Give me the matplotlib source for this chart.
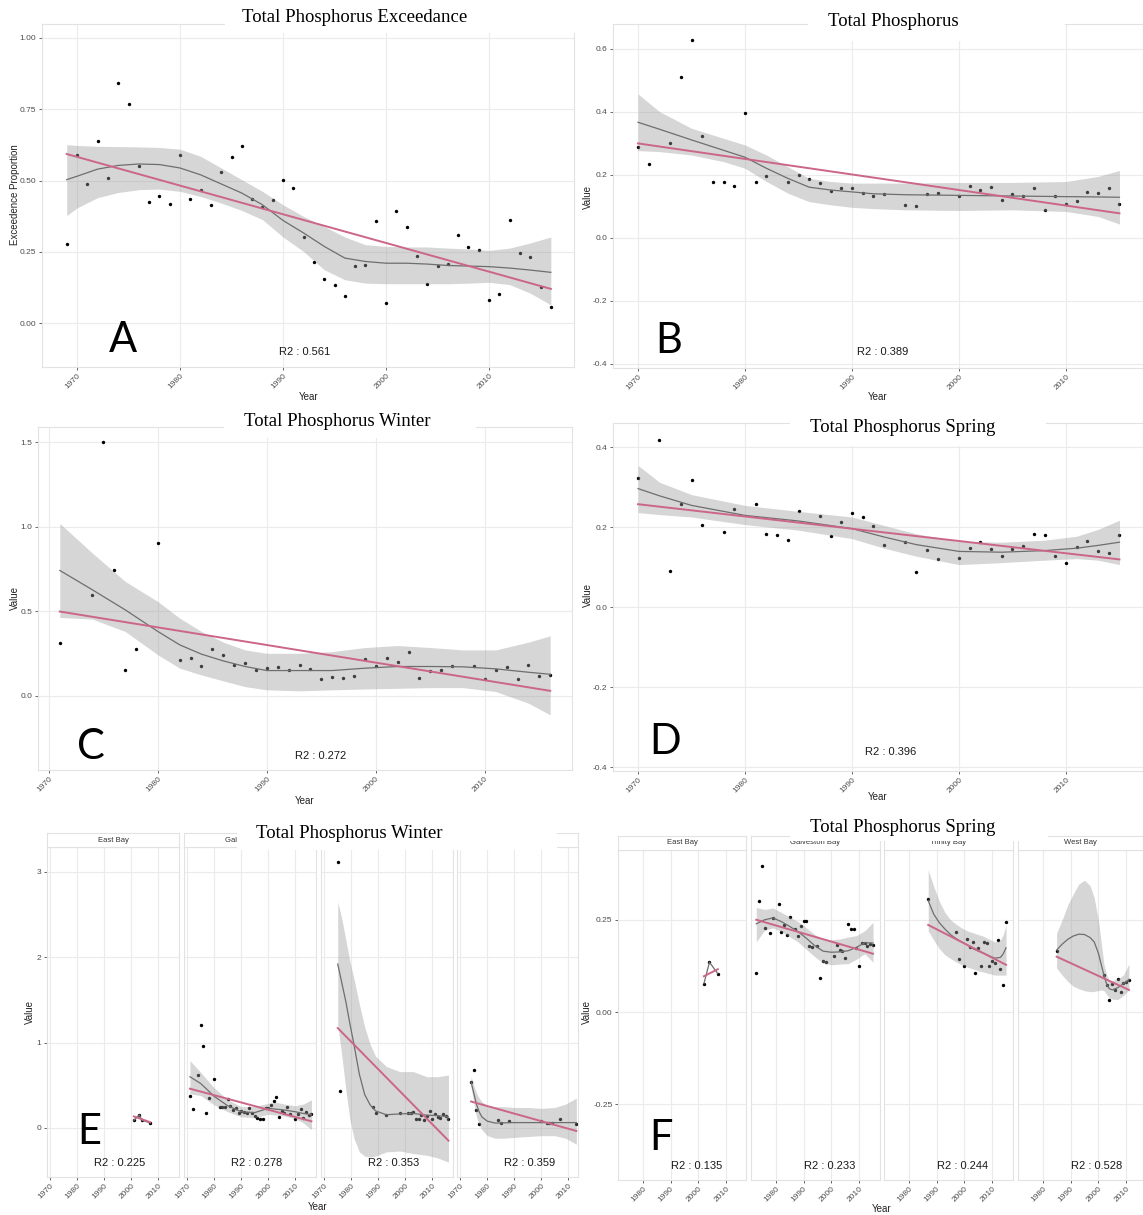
import matplotlib.pyplot as plt
from matplotlib.patches import Rectangle

W, H = 1143, 1215

# ── A: Total Phosphorus Exceedance ───────────────────────────────────────────
a_years = list(range(1969, 2017))
a_vals = [0.278, 0.588, 0.489, 0.640, 0.509, 0.842, 0.770, 0.550, 0.425, 0.447,
          0.419, 0.589, 0.435, 0.466, 0.414, 0.530, 0.582, 0.621, 0.435, 0.407,
          0.433, 0.501, 0.475, 0.301, 0.216, 0.154, 0.132, 0.094, 0.200, 0.202,
          0.357, 0.071, 0.393, 0.338, 0.235, 0.137, 0.201, 0.207, 0.308, 0.267,
          0.257, 0.081, 0.102, 0.360, 0.247, 0.232, 0.125, 0.056]
a_fit_x = [1969, 1970, 1972, 1974, 1976, 1978, 1980, 1982, 1984, 1986, 1988, 1990, 1992,
           1994, 1996, 1998, 2000, 2002, 2004, 2006, 2008, 2010, 2012, 2014, 2016]
a_fit = [0.503, 0.515, 0.540, 0.553, 0.558, 0.556, 0.544, 0.520, 0.488, 0.456, 0.415, 0.360, 0.316,
         0.269, 0.228, 0.216, 0.210, 0.210, 0.207, 0.202, 0.200, 0.198, 0.193, 0.186, 0.178]
a_hi = [0.626, 0.623, 0.620, 0.619, 0.618, 0.616, 0.610, 0.585, 0.544, 0.503, 0.462, 0.415, 0.374,
        0.339, 0.302, 0.275, 0.269, 0.267, 0.267, 0.263, 0.260, 0.255, 0.263, 0.281, 0.302]
a_lo = [0.377, 0.404, 0.440, 0.458, 0.468, 0.470, 0.462, 0.444, 0.421, 0.395, 0.363, 0.302, 0.251,
        0.187, 0.152, 0.140, 0.138, 0.138, 0.138, 0.138, 0.140, 0.143, 0.135, 0.105, 0.064]
a_lm_x = [1969, 2016]
a_lm = [0.593, 0.120]

# ── B: Total Phosphorus ──────────────────────────────────────────────────────
b_years = [1970, 1971, 1973, 1974, 1975, 1976, 1977, 1978, 1979, 1980, 1981, 1982, 1984, 1985,
           1986, 1987, 1988, 1989, 1990, 1991, 1992, 1993, 1995, 1996, 1997, 1998, 2000, 2001,
           2002, 2003, 2004, 2005, 2006, 2007, 2008, 2009, 2010, 2011, 2012, 2013, 2014, 2015]
b_vals = [0.290, 0.235, 0.302, 0.511, 0.628, 0.324, 0.177, 0.179, 0.166, 0.398, 0.178, 0.197,
          0.176, 0.201, 0.188, 0.174, 0.150, 0.158, 0.159, 0.143, 0.134, 0.140, 0.104, 0.100,
          0.140, 0.144, 0.133, 0.165, 0.151, 0.162, 0.121, 0.138, 0.134, 0.158, 0.087, 0.132,
          0.109, 0.117, 0.147, 0.141, 0.158, 0.108]
b_fit_x = [1970, 1972, 1975, 1978, 1980, 1982, 1984, 1986, 1988, 1990, 1992, 1995, 2000, 2005,
           2010, 2013, 2015]
b_fit = [0.367, 0.345, 0.311, 0.278, 0.256, 0.221, 0.189, 0.161, 0.152, 0.146, 0.140, 0.137,
         0.135, 0.133, 0.131, 0.130, 0.129]
b_hi = [0.457, 0.401, 0.348, 0.316, 0.295, 0.263, 0.226, 0.189, 0.179, 0.174, 0.174, 0.174,
        0.176, 0.176, 0.179, 0.195, 0.214]
b_lo = [0.277, 0.274, 0.263, 0.242, 0.221, 0.179, 0.142, 0.115, 0.105, 0.097, 0.093, 0.089,
        0.087, 0.089, 0.084, 0.068, 0.044]
b_lm_x = [1970, 2015]
b_lm = [0.300, 0.078]

# ── C: Total Phosphorus Winter ───────────────────────────────────────────────
c_years = [1971, 1974, 1975, 1976, 1977, 1978, 1980, 1982, 1983, 1984, 1985, 1986, 1987, 1988,
           1989, 1990, 1991, 1992, 1993, 1994, 1995, 1996, 1997, 1998, 1999, 2000, 2001, 2002,
           2003, 2004, 2005, 2006, 2007, 2009, 2010, 2011, 2012, 2013, 2014, 2015, 2016]
c_vals = [0.312, 0.598, 1.500, 0.744, 0.156, 0.278, 0.905, 0.215, 0.227, 0.179, 0.278, 0.241,
          0.181, 0.195, 0.154, 0.166, 0.170, 0.154, 0.181, 0.158, 0.099, 0.112, 0.103, 0.118,
          0.219, 0.178, 0.223, 0.203, 0.260, 0.105, 0.150, 0.152, 0.179, 0.178, 0.099, 0.154,
          0.170, 0.099, 0.185, 0.118, 0.122]
c_fit_x = [1971, 1974, 1977, 1980, 1982, 1984, 1986, 1988, 1990, 1993, 1996, 1999, 2002, 2005,
           2008, 2011, 2014, 2016]
c_fit = [0.742, 0.627, 0.509, 0.381, 0.302, 0.247, 0.207, 0.174, 0.150, 0.150, 0.150, 0.164,
         0.174, 0.174, 0.172, 0.160, 0.140, 0.128]
c_hi = [1.020, 0.844, 0.677, 0.558, 0.460, 0.381, 0.318, 0.272, 0.252, 0.252, 0.262, 0.286,
        0.298, 0.286, 0.272, 0.272, 0.318, 0.355]
c_lo = [0.464, 0.454, 0.381, 0.243, 0.164, 0.124, 0.089, 0.055, 0.036, 0.030, 0.036, 0.041,
        0.045, 0.049, 0.049, 0.026, -0.043, -0.112]
c_lm_x = [1971, 2016]
c_lm = [0.499, 0.030]

# ── D: Total Phosphorus Spring ───────────────────────────────────────────────
d_years = [1970, 1972, 1973, 1974, 1975, 1976, 1978, 1979, 1981, 1982, 1983, 1984, 1985, 1987,
           1988, 1989, 1990, 1991, 1992, 1993, 1995, 1996, 1997, 1998, 2000, 2001, 2002, 2003,
           2004, 2005, 2006, 2007, 2008, 2009, 2010, 2011, 2012, 2013, 2014, 2015]
d_vals = [0.322, 0.418, 0.090, 0.258, 0.318, 0.205, 0.187, 0.245, 0.257, 0.182, 0.181, 0.167,
          0.240, 0.228, 0.178, 0.212, 0.234, 0.224, 0.202, 0.156, 0.162, 0.088, 0.142, 0.121,
          0.123, 0.147, 0.162, 0.144, 0.128, 0.145, 0.152, 0.182, 0.179, 0.128, 0.109, 0.150,
          0.165, 0.139, 0.134, 0.179]
d_fit_x = [1970, 1972, 1975, 1980, 1985, 1990, 1993, 1996, 2000, 2004, 2008, 2011, 2013, 2015]
d_fit = [0.296, 0.278, 0.254, 0.229, 0.215, 0.196, 0.175, 0.156, 0.139, 0.137, 0.141, 0.147,
         0.154, 0.162]
d_hi = [0.354, 0.312, 0.281, 0.254, 0.239, 0.225, 0.204, 0.183, 0.164, 0.162, 0.167, 0.177,
        0.194, 0.217]
d_lo = [0.236, 0.231, 0.225, 0.206, 0.192, 0.171, 0.147, 0.127, 0.106, 0.111, 0.117, 0.121,
        0.117, 0.106]
d_lm_x = [1970, 2015]
d_lm = [0.257, 0.119]

# ── E: Total Phosphorus Winter by bay ────────────────────────────────────────
# strip labels of the two right facets are hidden under the pasted title in the original
e_strips = ['East Bay', 'Galveston Bay', '', '']
f_strips = ['East Bay', 'Galveston Bay', 'Trinity Bay', 'West Bay']

e1_years = [2001, 2003, 2004, 2007]
e1_vals = [0.09, 0.152, 0.09, 0.06]
e1_lm_x = [2001, 2007]
e1_lm = [0.135, 0.068]

e2_years = [1971, 1972, 1974, 1975, 1976, 1977, 1978, 1980, 1982, 1983, 1984, 1985, 1986, 1987,
            1988, 1989, 1990, 1991, 1992, 1993, 1994, 1995, 1996, 1997, 1998, 1999, 2000, 2001,
            2002, 2003, 2004, 2005, 2006, 2007, 2008, 2010, 2011, 2012, 2013, 2014, 2015, 2016]
e2_vals = [0.37, 0.22, 0.62, 1.21, 0.96, 0.18, 0.35, 0.57, 0.24, 0.25, 0.25, 0.34, 0.26, 0.21,
           0.23, 0.18, 0.20, 0.19, 0.17, 0.23, 0.17, 0.14, 0.12, 0.11, 0.10, 0.23, 0.23, 0.27,
           0.32, 0.36, 0.13, 0.20, 0.18, 0.25, 0.16, 0.10, 0.16, 0.22, 0.12, 0.19, 0.15, 0.16]
e2_fit_x = [1971, 1975, 1980, 1985, 1990, 1995, 2000, 2003, 2006, 2010, 2013, 2016]
e2_fit = [0.60, 0.52, 0.37, 0.26, 0.19, 0.18, 0.23, 0.22, 0.21, 0.19, 0.17, 0.155]
e2_hi = [0.79, 0.65, 0.47, 0.33, 0.25, 0.25, 0.29, 0.30, 0.28, 0.26, 0.28, 0.33]
e2_lo = [0.40, 0.38, 0.27, 0.19, 0.13, 0.12, 0.16, 0.15, 0.14, 0.11, 0.06, -0.02]
e2_lm_x = [1971, 2016]
e2_lm = [0.46, 0.078]

e3_years = [1975, 1976, 1988, 1989, 1993, 1998, 2001, 2002, 2003, 2004, 2005, 2006, 2007, 2008,
            2009, 2010, 2011, 2012, 2013, 2014, 2015, 2016]
e3_vals = [3.12, 0.43, 0.25, 0.18, 0.15, 0.17, 0.17, 0.17, 0.19, 0.10, 0.11, 0.15, 0.09, 0.14,
           0.20, 0.11, 0.16, 0.13, 0.12, 0.16, 0.14, 0.10]
e3_fit_x = [1975, 1976.5, 1978, 1979.5, 1981, 1983, 1985, 1987, 1989, 1993, 1998, 2003, 2008,
            2012, 2016]
e3_fit = [1.92, 1.70, 1.48, 1.22, 0.98, 0.63, 0.39, 0.27, 0.20, 0.155, 0.165, 0.17, 0.15,
          0.145, 0.13]
e3_hi = [2.65, 2.45, 2.20, 1.95, 1.75, 1.45, 1.18, 0.98, 0.84, 0.72, 0.66, 0.66, 0.60, 0.60, 0.62]
e3_lo = [1.21, 0.85, 0.45, 0.10, -0.12, -0.28, -0.33, -0.34, -0.33, -0.28, -0.27, -0.30, -0.32,
         -0.35, -0.40]
e3_lm_x = [1975, 2016]
e3_lm = [1.17, -0.148]

e4_years = [1974, 1975, 1976, 1977, 1984, 1985, 1988, 2000, 2002, 2003, 2004, 2007, 2013]
e4_vals = [0.54, 0.68, 0.21, 0.05, 0.09, 0.06, 0.08, 0.08, 0.06, 0.06, 0.06, 0.10, 0.05]
e4_fit_x = [1974, 1975, 1976, 1977, 1978, 1980, 1983, 1986, 1990, 1995, 2000, 2005, 2009, 2013]
e4_fit = [0.54, 0.41, 0.28, 0.19, 0.13, 0.08, 0.057, 0.06, 0.063, 0.063, 0.063, 0.063, 0.063,
          0.063]
e4_hi = [0.60, 0.50, 0.41, 0.35, 0.31, 0.26, 0.25, 0.25, 0.24, 0.24, 0.23, 0.24, 0.28, 0.35]
e4_lo = [0.48, 0.30, 0.13, 0.04, -0.02, -0.09, -0.12, -0.12, -0.11, -0.10, -0.09, -0.09, -0.12,
         -0.19]
e4_lm_x = [1974, 2013]
e4_lm = [0.31, -0.035]
e_r2 = ['0.225', '0.278', '0.353', '0.359']

# ── F: Total Phosphorus Spring by bay ────────────────────────────────────────
f1_years = [2002, 2004, 2007]
f1_vals = [0.077, 0.135, 0.104]
f1_lm_x = [2002, 2007]
f1_lm = [0.097, 0.116]

f2_years = [1973, 1974, 1975, 1976, 1978, 1979, 1981, 1982, 1983, 1984, 1985, 1987, 1988, 1989,
            1990, 1991, 1992, 1993, 1995, 1996, 1997, 1998, 2001, 2002, 2003, 2004, 2005, 2006,
            2007, 2008, 2009, 2010, 2011, 2012, 2013, 2014, 2015]
f2_vals = [0.106, 0.300, 0.397, 0.228, 0.215, 0.255, 0.293, 0.218, 0.237, 0.210, 0.257, 0.225,
           0.205, 0.232, 0.248, 0.246, 0.180, 0.176, 0.178, 0.093, 0.138, 0.135, 0.152, 0.182,
           0.169, 0.165, 0.147, 0.238, 0.224, 0.224, 0.174, 0.126, 0.187, 0.187, 0.178, 0.184,
           0.182]
f2_fit_x = [1973, 1976, 1979, 1982, 1985, 1988, 1991, 1994, 1997, 2000, 2003, 2006, 2009, 2012,
            2015]
f2_fit = [0.239, 0.250, 0.255, 0.245, 0.232, 0.218, 0.200, 0.180, 0.165, 0.162, 0.163, 0.166,
          0.175, 0.188, 0.187]
f2_hi = [0.283, 0.278, 0.282, 0.270, 0.258, 0.245, 0.228, 0.210, 0.198, 0.196, 0.198, 0.203,
         0.207, 0.220, 0.243]
f2_lo = [0.190, 0.222, 0.228, 0.218, 0.204, 0.190, 0.170, 0.150, 0.133, 0.128, 0.130, 0.131,
         0.143, 0.158, 0.135]
f2_lm_x = [1973, 2015]
f2_lm = [0.250, 0.158]

f3_years = [1987, 1997, 1998, 2000, 2001, 2002, 2003, 2004, 2005, 2006, 2007, 2008, 2009, 2010,
            2011, 2012, 2013, 2014, 2015]
f3_vals = [0.307, 0.217, 0.143, 0.124, 0.197, 0.176, 0.191, 0.106, 0.174, 0.126, 0.190, 0.186,
           0.125, 0.138, 0.133, 0.196, 0.116, 0.074, 0.244]
f3_fit_x = [1987, 1989, 1991, 1993, 1995, 1997, 1999, 2001, 2003, 2005, 2007, 2009, 2011, 2013,
            2014, 2015]
f3_fit = [0.302, 0.265, 0.242, 0.225, 0.210, 0.199, 0.190, 0.182, 0.172, 0.165, 0.159, 0.152,
          0.146, 0.148, 0.158, 0.174]
f3_hi = [0.385, 0.340, 0.300, 0.270, 0.250, 0.238, 0.228, 0.220, 0.215, 0.210, 0.205, 0.197,
         0.190, 0.195, 0.210, 0.235]
f3_lo = [0.220, 0.195, 0.172, 0.155, 0.145, 0.136, 0.128, 0.122, 0.117, 0.112, 0.108, 0.104,
         0.100, 0.100, 0.100, 0.100]
f3_lm_x = [1987, 2015]
f3_lm = [0.236, 0.128]

f4_years = [1985, 2002, 2003, 2004, 2005, 2006, 2007, 2008, 2009, 2010, 2011]
f4_vals = [0.165, 0.101, 0.074, 0.033, 0.077, 0.061, 0.089, 0.054, 0.079, 0.081, 0.088]
f4_fit_x = [1985, 1987, 1989, 1991, 1993, 1995, 1997, 1998.5, 2000, 2001, 2002, 2003, 2004,
            2005, 2007, 2009, 2011]
f4_fit = [0.168, 0.184, 0.197, 0.206, 0.211, 0.210, 0.202, 0.190, 0.160, 0.130, 0.100, 0.075,
          0.063, 0.060, 0.066, 0.077, 0.088]
f4_hi = [0.214, 0.250, 0.290, 0.320, 0.347, 0.357, 0.343, 0.310, 0.250, 0.190, 0.130, 0.100,
         0.085, 0.085, 0.090, 0.100, 0.130]
f4_lo = [0.119, 0.100, 0.083, 0.070, 0.063, 0.058, 0.055, 0.056, 0.058, 0.060, 0.058, 0.048,
         0.038, 0.035, 0.034, 0.045, 0.060]
f4_lm_x = [1985, 2011]
f4_lm = [0.150, 0.060]
f_r2 = ['0.135', '0.233', '0.244', '0.528']

# ── style ────────────────────────────────────────────────────────────────────
GRID = '#EBEBEB'
BORDER = '#E2E2E2'
TICK = '#4D4D4D'
PINK = '#CC6688'
SMOOTH = '#6E6E6E'

plt.rcParams['font.family'] = ['Liberation Sans', 'DejaVu Sans']
fig = plt.figure(figsize=(W / 100, H / 100), dpi=100)


def rect(x0, y0, x1, y1):
    # pixel box (top-left origin) -> figure fraction
    return [x0 / W, 1 - y1 / H, (x1 - x0) / W, (y1 - y0) / H]


def panel(px, xlim, ylim, xticks, yticks, ylabels=None):
    ax = fig.add_axes(rect(*px))
    ax.set_xlim(*xlim)
    ax.set_ylim(*ylim)
    ax.set_xticks(xticks)
    ax.set_xticklabels([str(t) for t in xticks], rotation=45, ha='right',
                       rotation_mode='anchor')
    ax.set_yticks(yticks)
    ax.tick_params(length=2.5, width=0.6, color=TICK, labelsize=6,
                   labelcolor=TICK, pad=1.5)
    if ylabels is None:
        ax.set_yticklabels([])
        ax.tick_params(axis='y', length=0)
    else:
        ax.set_yticklabels(ylabels)
    ax.grid(True, color=GRID, lw=0.8)
    ax.set_axisbelow(True)
    for s in ax.spines.values():
        s.set_color(BORDER)
        s.set_linewidth(0.8)
    return ax


def draw(ax, yrs, vals, fx, fy, lo, hi, lx, ly):
    ax.scatter(yrs, vals, s=6, c='black', lw=0, zorder=2)
    if lo is not None:
        ax.fill_between(fx, lo, hi, color='#999999', alpha=0.4, lw=0, zorder=3)
    ax.plot(fx, fy, color=SMOOTH, lw=0.9, zorder=4)
    ax.plot(lx, ly, color=PINK, lw=1.4, zorder=5)


def strip(px, label):
    sax = fig.add_axes(rect(*px))
    sax.set_xticks([])
    sax.set_yticks([])
    for s in sax.spines.values():
        s.set_color(BORDER)
        s.set_linewidth(0.8)
    if label:
        sax.text(0.5, 0.5, label, ha='center', va='center', fontsize=5.5,
                 color='#333333', transform=sax.transAxes)


def title(x0, y0, x1, y1, cx, cy, s):
    fig.add_artist(Rectangle((x0 / W, 1 - y1 / H), (x1 - x0) / W, (y1 - y0) / H,
                             transform=fig.transFigure, facecolor='white',
                             edgecolor='none', zorder=10))
    fig.text(cx / W, 1 - cy / H, s, ha='center', va='center', fontsize=13.5,
             family='Liberation Serif', zorder=11)


def ftext(x, y, s, **kw):
    fig.text(x / W, 1 - y / H, s, **kw)


def letter(x, y, s):
    ftext(x, y, s, ha='center', va='center', fontsize=30, family=['Lato', 'DejaVu Sans'])


def axis_titles(ylab, yx, yy, xx, xy):
    ftext(yx, yy, ylab, rotation=90, ha='center', va='center', fontsize=7, color='#222222')
    ftext(xx, xy, 'Year', ha='center', va='center', fontsize=7, color='#222222')


decades = [1970, 1980, 1990, 2000, 2010]

# A
ax = panel((42, 24, 574, 367), (1966.6, 2018.25), (-0.154, 1.049), decades,
           [0, 0.25, 0.5, 0.75, 1.0], ['0.00', '0.25', '0.50', '0.75', '1.00'])
draw(ax, a_years, a_vals, a_fit_x, a_fit, a_lo, a_hi, a_lm_x, a_lm)
ax.text(1992.1, -0.10, 'R2 : 0.561', ha='center', va='center', fontsize=8, color='#1A1A1A')
axis_titles('Exceedence Proportion', 15, 195, 309, 397)

# B
ax = panel((613, 24, 1143, 368), (1967.66, 2017.2), (-0.413, 0.679), decades,
           [-0.4, -0.2, 0, 0.2, 0.4, 0.6], ['-0.4', '-0.2', '0.0', '0.2', '0.4', '0.6'])
draw(ax, b_years, b_vals, b_fit_x, b_fit, b_lo, b_hi, b_lm_x, b_lm)
ax.text(1992.9, -0.362, 'R2 : 0.389', ha='center', va='center', fontsize=8, color='#1A1A1A')
axis_titles('Value', 588, 197, 878, 397)

# C
ax = panel((38, 427, 572, 770), (1969.0, 2018.0), (-0.438, 1.59), decades,
           [0, 0.5, 1.0, 1.5], ['0.0', '0.5', '1.0', '1.5'])
draw(ax, c_years, c_vals, c_fit_x, c_fit, c_lo, c_hi, c_lm_x, c_lm)
ax.text(1994.9, -0.355, 'R2 : 0.272', ha='center', va='center', fontsize=8, color='#1A1A1A')
axis_titles('Value', 15, 598, 305, 801)

# D
ax = panel((613, 423, 1143, 771), (1967.66, 2017.2), (-0.41, 0.46), decades,
           [-0.4, -0.2, 0, 0.2, 0.4], ['-0.4', '-0.2', '0.0', '0.2', '0.4'])
draw(ax, d_years, d_vals, d_fit_x, d_fit, d_lo, d_hi, d_lm_x, d_lm)
ax.text(1993.6, -0.3625, 'R2 : 0.396', ha='center', va='center', fontsize=8, color='#1A1A1A')
axis_titles('Value', 588, 595, 878, 797)

# E facets
e_cols = [(47, 179), (184, 316), (321, 453), (457, 578)]
e_data = [
    (e1_years, e1_vals, e1_years, e1_vals, None, None, e1_lm_x, e1_lm),
    (e2_years, e2_vals, e2_fit_x, e2_fit, e2_lo, e2_hi, e2_lm_x, e2_lm),
    (e3_years, e3_vals, e3_fit_x, e3_fit, e3_lo, e3_hi, e3_lm_x, e3_lm),
    (e4_years, e4_vals, e4_fit_x, e4_fit, e4_lo, e4_hi, e4_lm_x, e4_lm),
]
for i, ((x0, x1), d) in enumerate(zip(e_cols, e_data)):
    ylab = ['0', '1', '2', '3'] if i == 0 else None
    ax = panel((x0, 847, x1, 1177), (1968.8, 1968.8 + (x1 - x0) / 2.7), (-0.574, 3.29),
               decades, [0, 1, 2, 3], ylab)
    draw(ax, *d)
    ax.text(1995.8, -0.41, 'R2 : ' + e_r2[i], ha='center', va='center', fontsize=8,
            color='#1A1A1A')
    strip((x0, 833, x1, 847), e_strips[i])
axis_titles('Value', 30, 1012, 318, 1207)

# F facets
f_cols = [(618, 746), (751, 880), (884, 1013), (1018, 1143)]
f_data = [
    (f1_years, f1_vals, f1_years, f1_vals, None, None, f1_lm_x, f1_lm),
    (f2_years, f2_vals, f2_fit_x, f2_fit, f2_lo, f2_hi, f2_lm_x, f2_lm),
    (f3_years, f3_vals, f3_fit_x, f3_fit, f3_lo, f3_hi, f3_lm_x, f3_lm),
    (f4_years, f4_vals, f4_fit_x, f4_fit, f4_lo, f4_hi, f4_lm_x, f4_lm),
]
for i, ((x0, x1), d) in enumerate(zip(f_cols, f_data)):
    ylab = ['-0.25', '0.00', '0.25'] if i == 0 else None
    ax = panel((x0, 850, x1, 1180), (1971.1, 1971.1 + (x1 - x0) / 2.78), (-0.455, 0.439),
               [1980, 1990, 2000, 2010], [-0.25, 0, 0.25], ylab)
    draw(ax, *d)
    ax.text(1999.5, -0.417, 'R2 : ' + f_r2[i], ha='center', va='center', fontsize=8,
            color='#1A1A1A')
    strip((x0, 836, x1, 850), f_strips[i])
axis_titles('Value', 587, 1012, 882, 1209)

# pasted titles on white boxes
title(225, 0, 576, 33, 355, 17, 'Total Phosphorus Exceedance')
title(808, 0, 1065, 41, 893, 21, 'Total Phosphorus')
title(224, 405, 476, 438, 337, 422, 'Total Phosphorus Winter')
title(790, 405, 1046, 446, 903, 427, 'Total Phosphorus Spring')
title(237, 812, 557, 850, 349, 834, 'Total Phosphorus Winter')
title(790, 808, 1048, 841, 903, 827, 'Total Phosphorus Spring')

# panel letters
letter(123, 340, 'A')
letter(669, 341, 'B')
letter(91, 747, 'C')
letter(665, 742, 'D')
letter(89, 1132, 'E')
letter(661, 1138, 'F')

fig.savefig('out.png', dpi=100, facecolor='white')
